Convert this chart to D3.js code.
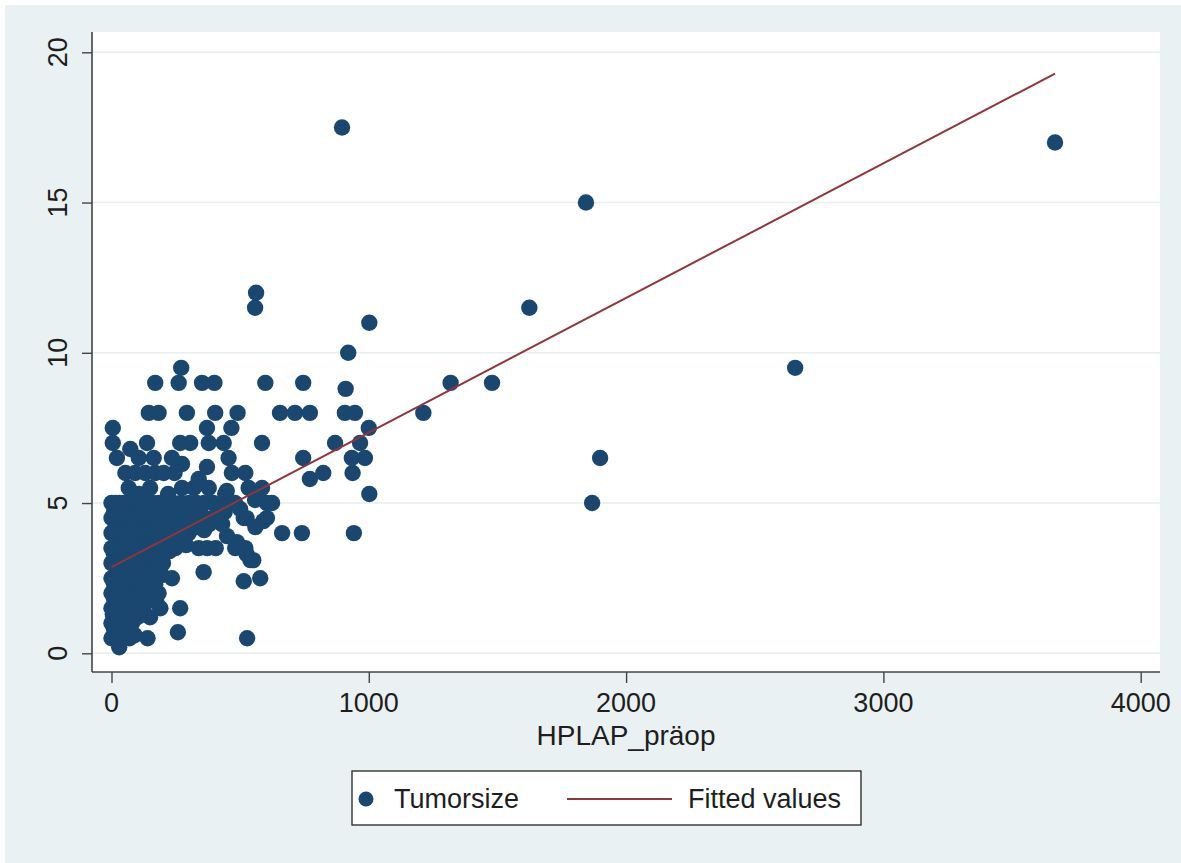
<!DOCTYPE html>
<html>
<head>
<meta charset="utf-8">
<script src="https://cdn.jsdelivr.net/npm/d3@7"></script>
<style>
  html, body { margin: 0; padding: 0; background: #eaf1f3; }
  svg { display: block; }
  text { font-family: "Liberation Sans", Arial, sans-serif; fill: #1e1e1e; }
</style>
</head>
<body>
<svg id="chart" width="1181" height="863"></svg>
<script>
// HPLAP before surgery vs. tumour size (cm)
const hplap = [
  30,
  0, 20, 45, 70, 140, 527,
  35, 90,
  258,
  10, 60,
  0, 25, 50, 80,
  15, 40, 100, 150,
  5, 60, 125,
  0, 20, 45, 70, 95, 120, 190, 267,
  30, 85, 135, 175,
  10, 55, 110, 160,
  0, 20, 40, 65, 90, 130, 183,
  30, 75, 150,
  10, 50, 115, 170,
  0, 15, 35, 60, 85, 110, 140, 170, 235, 514, 578,
  45, 125, 195,
  358,
  25, 95, 160,
  0, 20, 40, 60, 80, 105, 130, 155, 180, 200, 540,
  50, 120, 170, 525, 551,
  10, 80, 145, 195,
  35, 100, 225,
  0, 15, 30, 50, 70, 90, 115, 140, 165, 190, 210, 248, 339, 372, 405, 481, 520,
  60, 160, 290,
  130, 220, 487,
  35, 100, 175, 260, 449,
  0, 20, 40, 60, 80, 100, 125, 150, 175, 200, 230, 265, 300, 663, 740, 942,
  10, 110, 210, 280, 360,
  55, 160, 240, 330, 430, 559,
  30, 85, 185, 255, 300, 380,
  0, 15, 35, 55, 75, 100, 125, 150, 180, 210, 250, 290, 320, 360, 390, 514, 525, 590, 604,
  60, 120, 230, 340, 410,
  10, 170, 310, 440,
  30, 90, 140, 200, 270, 345, 500,
  45, 120, 190, 250, 420,
  0, 15, 30, 50, 70, 90, 110, 135, 160, 185, 210, 240, 270, 300, 330, 360, 395, 450, 480, 558, 603, 624, 1868,
  106, 220, 442, 1002,
  67, 150, 274, 320, 378, 448, 533, 585,
  339, 771,
  54, 92, 131, 170, 203, 245, 468, 520, 823, 937,
  371,
  274,
  21, 106, 164, 235, 455, 745, 934, 985, 1899,
  73,
  5, 138, 267, 306, 378, 436, 585, 869, 966,
  5, 371, 466, 1000,
  145, 183, 293, 403, 490, 655, 713, 771, 907, 946, 1212,
  910,
  170, 261, 352, 400, 598, 745, 1318, 1479,
  271, 2657,
  920,
  1002,
  558, 1624,
  562,
  1844,
  3667,
  896
];
const tumorsize = [
  0.2,
  0.5, 0.5, 0.5, 0.5, 0.5, 0.5,
  0.6, 0.6,
  0.7,
  0.8, 0.8,
  1, 1, 1, 1,
  1.2, 1.2, 1.2, 1.2,
  1.3, 1.3, 1.3,
  1.5, 1.5, 1.5, 1.5, 1.5, 1.5, 1.5, 1.5,
  1.7, 1.7, 1.7, 1.7,
  1.8, 1.8, 1.8, 1.8,
  2, 2, 2, 2, 2, 2, 2,
  2.2, 2.2, 2.2,
  2.3, 2.3, 2.3, 2.3,
  2.5, 2.5, 2.5, 2.5, 2.5, 2.5, 2.5, 2.5, 2.5, 2.4, 2.5,
  2.6, 2.6, 2.6,
  2.7,
  2.8, 2.8, 2.8,
  3, 3, 3, 3, 3, 3, 3, 3, 3, 3, 3.1,
  3.2, 3.2, 3.2, 3.3, 3.1,
  3.3, 3.3, 3.3, 3.3,
  3.4, 3.4, 3.4,
  3.5, 3.5, 3.5, 3.5, 3.5, 3.5, 3.5, 3.5, 3.5, 3.5, 3.5, 3.5, 3.5, 3.5, 3.5, 3.5, 3.5,
  3.6, 3.6, 3.6,
  3.7, 3.7, 3.7,
  3.8, 3.8, 3.8, 3.8, 3.9,
  4, 4, 4, 4, 4, 4, 4, 4, 4, 4, 4, 4, 4, 4, 4, 4,
  4.1, 4.1, 4.1, 4.1, 4.1,
  4.2, 4.2, 4.2, 4.2, 4.3, 4.2,
  4.3, 4.3, 4.3, 4.3, 4.3, 4.3,
  4.5, 4.5, 4.5, 4.5, 4.5, 4.5, 4.5, 4.5, 4.5, 4.5, 4.5, 4.5, 4.5, 4.5, 4.5, 4.5, 4.5, 4.4, 4.5,
  4.6, 4.6, 4.6, 4.6, 4.6,
  4.7, 4.7, 4.7, 4.7,
  4.8, 4.8, 4.8, 4.8, 4.8, 4.8, 4.8,
  4.9, 4.9, 4.9, 4.9, 4.9,
  5, 5, 5, 5, 5, 5, 5, 5, 5, 5, 5, 5, 5, 5, 5, 5, 5, 5, 5, 5.1, 5, 5, 5,
  5.3, 5.3, 5.3, 5.3,
  5.5, 5.5, 5.5, 5.5, 5.5, 5.4, 5.5, 5.5,
  5.8, 5.8,
  6, 6, 6, 6, 6, 6, 6, 6, 6, 6,
  6.2,
  6.3,
  6.5, 6.5, 6.5, 6.5, 6.5, 6.5, 6.5, 6.5, 6.5,
  6.8,
  7, 7, 7, 7, 7, 7, 7, 7, 7,
  7.5, 7.5, 7.5, 7.5,
  8, 8, 8, 8, 8, 8, 8, 8, 8, 8, 8,
  8.8,
  9, 9, 9, 9, 9, 9, 9, 9,
  9.5, 9.5,
  10,
  11,
  11.5, 11.5,
  12,
  15,
  17,
  17.5
];

// Linear fit (Fitted values)
const fitIntercept = 2.87;
const fitSlope = 0.004478;

const xTicks = [0, 1000, 2000, 3000, 4000];
const yTicks = [0, 5, 10, 15, 20];
const xTitle = "HPLAP_präop";
const legendLabels = ["Tumorsize", "Fitted values"];

const navy = "#1a476f";
const maroon = "#90353b";

const svg = d3.select("#chart");

// thin white edge along top and left
svg.append("rect").attr("x", 0).attr("y", 0).attr("width", 1181).attr("height", 863).attr("fill", "#ffffff");
svg.append("rect").attr("x", 5).attr("y", 5).attr("width", 1176).attr("height", 858).attr("fill", "#eaf1f3");

// plot region
const region = { left: 92, right: 1160, top: 32, bottom: 672 };
svg.append("rect")
  .attr("x", region.left).attr("y", region.top)
  .attr("width", region.right - region.left).attr("height", region.bottom - region.top)
  .attr("fill", "#ffffff");

const x = d3.scaleLinear().domain([0, 4000]).range([111.5, 1140.7]);
const y = d3.scaleLinear().domain([0, 20]).range([653.3, 52.3]);

// horizontal grid lines
svg.append("g").selectAll("line").data(yTicks).join("line")
  .attr("x1", region.left).attr("x2", region.right)
  .attr("y1", d => y(d)).attr("y2", d => y(d))
  .attr("stroke", "#e6eef0").attr("stroke-width", 1.5);

// markers
const pts = hplap.map((v, i) => ({ x: v, y: tumorsize[i] }));
svg.append("g").selectAll("circle").data(pts).join("circle")
  .attr("cx", d => x(d.x)).attr("cy", d => y(d.y))
  .attr("r", 8.2).attr("fill", navy);

// fitted line
const xMin = d3.min(hplap), xMax = d3.max(hplap);
svg.append("line")
  .attr("x1", x(xMin)).attr("y1", y(fitIntercept + fitSlope * xMin))
  .attr("x2", x(xMax)).attr("y2", y(fitIntercept + fitSlope * xMax))
  .attr("stroke", maroon).attr("stroke-width", 2);

// y axis
const yAxis = svg.append("g").attr("transform", `translate(${region.left},0)`)
  .call(d3.axisLeft(y).tickValues(yTicks).tickSize(10).tickFormat(""));
yAxis.select(".domain").attr("d", `M0,${region.top}V${region.bottom}`).attr("stroke", "#444").attr("stroke-width", 1.6);
yAxis.selectAll(".tick line").attr("stroke", "#444").attr("stroke-width", 1.4);
svg.append("g").selectAll("text").data(yTicks).join("text")
  .attr("transform", d => `translate(67,${y(d)}) rotate(-90)`)
  .attr("text-anchor", "middle")
  .attr("font-size", 27)
  .text(d => d);

// x axis
const xAxis = svg.append("g").attr("transform", `translate(0,${region.bottom})`)
  .call(d3.axisBottom(x).tickValues(xTicks).tickSize(11).tickFormat(""));
xAxis.select(".domain").attr("d", `M${region.left},0H${region.right}`).attr("stroke", "#444").attr("stroke-width", 1.6);
xAxis.selectAll(".tick line").attr("stroke", "#444").attr("stroke-width", 1.4);
svg.append("g").selectAll("text").data(xTicks).join("text")
  .attr("x", d => x(d)).attr("y", 712)
  .attr("text-anchor", "middle")
  .attr("font-size", 27)
  .text(d => d);

svg.append("text")
  .attr("x", 626).attr("y", 745)
  .attr("text-anchor", "middle")
  .attr("font-size", 28)
  .text(xTitle);

// legend
const lg = svg.append("g");
lg.append("rect").attr("x", 352).attr("y", 771).attr("width", 509).attr("height", 54)
  .attr("fill", "#ffffff").attr("stroke", "#333").attr("stroke-width", 1.4);
lg.append("circle").attr("cx", 366).attr("cy", 799).attr("r", 7.5).attr("fill", navy);
lg.append("text").attr("x", 394).attr("y", 808).attr("font-size", 27).text(legendLabels[0]);
lg.append("line").attr("x1", 567).attr("x2", 672).attr("y1", 799).attr("y2", 799)
  .attr("stroke", maroon).attr("stroke-width", 2);
lg.append("text").attr("x", 688).attr("y", 808).attr("font-size", 27).text(legendLabels[1]);
</script>
</body>
</html>
